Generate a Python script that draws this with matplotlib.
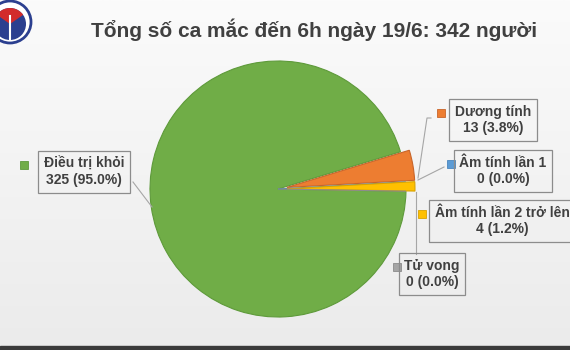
import matplotlib
matplotlib.use("Agg")
import matplotlib.pyplot as plt
import numpy as np
from matplotlib.patches import Rectangle, Circle, Wedge
from matplotlib.colors import LinearSegmentedColormap

plt.rcParams['font.family'] = ['Liberation Sans', 'DejaVu Sans']

title = "Tổng số ca mắc đến 6h ngày 19/6: 342 người"
categories = ["Điều trị khỏi", "Dương tính", "Âm tính lần 1", "Âm tính lần 2 trở lên", "Tử vong"]
values = [325, 13, 0, 4, 0]
colors = ["#70AD47", "#ED7D31", "#5B9BD5", "#FFC000", "#A5A5A5"]
edges = ["#5E9A3A", "#C8652A", "#4A86BD", "#D9A300", "#8C8C8C"]
explode = [0, 0.07, 0, 0.07, 0]

W, H = 570, 350
fig = plt.figure(figsize=(W / 100, H / 100), dpi=100)

# background gradient
bg = fig.add_axes([0, 0, 1, 1])
grad = np.linspace(0, 1, 256).reshape(-1, 1)
cmap = LinearSegmentedColormap.from_list("bg", ["#fbfbfb", "#ebebeb"])
bg.imshow(grad, aspect='auto', cmap=cmap, extent=[0, W, H, 0])
bg.set_xlim(0, W)
bg.set_ylim(H, 0)
bg.axis('off')
bg.add_patch(Rectangle((0, 346), W, 4, color="#3a3a3a"))

# logo (approximate)
bg.add_patch(Circle((10, 22), 21, facecolor="white", edgecolor="#2b3f8f", lw=2.0))
bg.add_patch(Circle((10, 24), 16, facecolor="#2b3f8f", edgecolor="none"))
bg.add_patch(Wedge((10, 24), 16, 215, 325, facecolor="#d22b2b", edgecolor="none"))
bg.plot([10, 10], [16, 40], color="white", lw=1.5)

# pie
cx, cy, r = 278, 189, 128
pax = fig.add_axes([(cx - r) / W, (H - cy - r) / H, 2 * r / W, 2 * r / H])
total = sum(values)
wedges, _ = pax.pie(values, colors=colors, explode=explode, startangle=-1,
                    counterclock=False, radius=1,
                    wedgeprops=dict(linewidth=0.8))
for w, ec in zip(wedges, edges):
    w.set_edgecolor(ec)
    w.set_clip_on(False)
pax.set_xlim(-1, 1)
pax.set_ylim(-1, 1)
pax.set_aspect('equal')
pax.axis('off')

# overlay for text
ov = fig.add_axes([0, 0, 1, 1])
ov.set_xlim(0, W)
ov.set_ylim(H, 0)
ov.axis('off')
ov.patch.set_alpha(0)

ov.text(314, 30, title, ha='center', va='center', fontsize=15,
        fontweight='bold', color="#404040")

label_pos = [(84, 172), (493, 120), (503, 171), (502, 221), (432, 274)]
square_x = [20, 437, 447, 418, 393]
for i, (name, v) in enumerate(zip(categories, values)):
    x, y = label_pos[i]
    txt = f"{name}\n{v} ({v / total * 100:.1f}%)"
    ov.text(x, y, txt, ha='center', va='center', fontsize=10,
            fontweight='bold', color="#404040", linespacing=1.25,
            bbox=dict(boxstyle='square,pad=0.4', facecolor='none',
                      edgecolor='#8c8c8c', lw=0.9), clip_on=False)
    ov.add_patch(Rectangle((square_x[i], y - 11), 8, 8, facecolor=colors[i],
                           edgecolor=edges[i], lw=0.6))

lc = "#a6a6a6"
ov.plot([133, 152], [182, 207], color=lc, lw=0.8)
ov.plot([431, 427, 418], [118, 118, 178], color=lc, lw=0.8)
ov.plot([444, 418], [167, 180], color=lc, lw=0.8)
ov.plot([416, 416], [192, 254], color=lc, lw=0.8)

fig.savefig("out.png", dpi=100)
